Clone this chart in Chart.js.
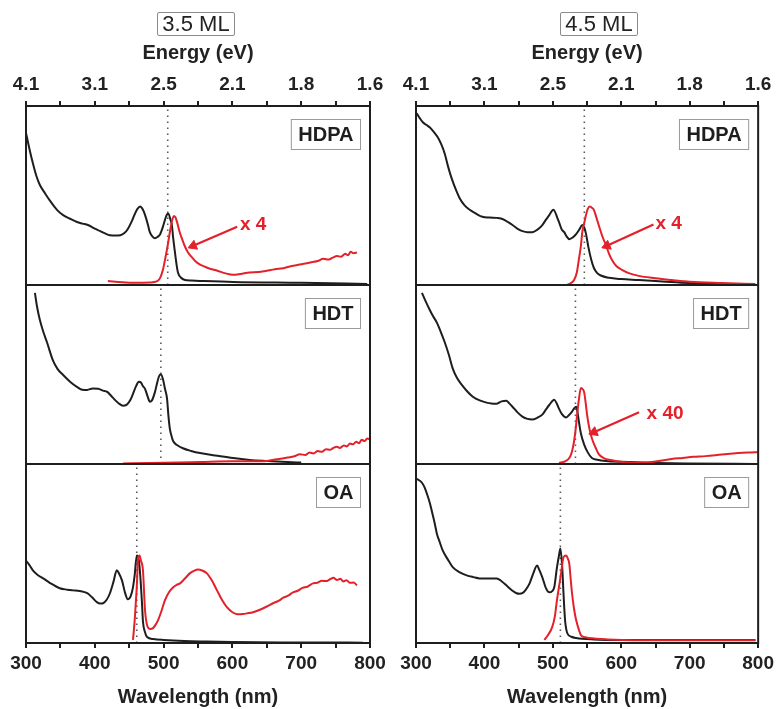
<!DOCTYPE html>
<html>
<head>
<meta charset="utf-8">
<script src="https://cdn.jsdelivr.net/npm/chart.js@4.4.1/dist/chart.umd.min.js"></script>
<style>
  html, body { margin: 0; padding: 0; background: #fff; }
  body { width: 778px; height: 709px; position: relative; overflow: hidden;
         font-family: "Liberation Sans", Arial, sans-serif; }
  .col { position: absolute; top: 0; height: 709px; }
  .ml { position: absolute; top: 12px; height: 24px; box-sizing: border-box;
        border: 1px solid #8a8a8a; border-radius: 2px; font-size: 22px; line-height: 22px;
        color: #222; text-align: center; }
</style>
</head>
<body>
<div class="col" style="left:0;width:390px"><canvas id="c35" width="390" height="709"></canvas></div>
<div class="col" style="left:390px;width:388px"><canvas id="c45" width="388" height="709"></canvas></div>
<div class="ml" style="left:157px;width:78px">3.5 ML</div>
<div class="ml" style="left:560px;width:78px">4.5 ML</div>
<script>
// ---------------- data ----------------
const thicknessLabels = ['3.5 ML', '4.5 ML'];
const ligands = ['HDPA', 'HDT', 'OA'];
const wavelengthTicks = [300, 400, 500, 600, 700, 800];
const energyTickLabels = ['4.1', '3.1', '2.5', '2.1', '1.8', '1.6'];

// band-edge (dotted line) wavelengths, nm, per panel top->bottom
const exciton35 = [506, 496, 461];
const exciton45 = [546, 533, 511];

// PL magnification labels
const plFactor35 = ['x 4', '', ''];
const plFactor45 = ['x 4', 'x 40', ''];

// 3.5 ML absorption [wavelength nm, normalised intensity]
const abs35HDPA = [[300,85],[305,76],[310,68],[315,61],[320,56],[328,51],[335,47],[345,42],[354,39],[364,37],[374,35.2],[382,34.3],[390,33.5],[400,31.5],[408,30.1],[415,28.8],[422,27.8],[430,27.6],[437,27.8],[443,29],[448,31.3],[453,35],[458,39.5],[462,42.5],[466,43.8],[470,42],[473,39.2],[477,34],[480,29.5],[484,27],[487.5,26.1],[491,26.8],[495,28.4],[499,32.5],[502,36.4],[505,39.5],[507,39.8],[510,36.5],[512,33.5],[514,26],[516.5,18.2],[519,11],[521,6.8],[525,4.2],[531,2.8],[540,2.5],[553,2.3],[601,1.7],[700,1.2],[796,0.6]];
const abs35HDT = [[313,95.6],[316,88],[320,80.7],[325,74],[330.5,68],[339,58],[346,53],[354,49.7],[364,46],[374,43.1],[382,41.5],[389,41.4],[397,42.2],[405,42],[412,41],[418,40.3],[424,38],[429,35.9],[435,33.8],[441,32.6],[445,32.8],[448,33.7],[452,36],[455.5,39.2],[460,43.5],[464,45.9],[467,45.5],[470,43.5],[473,42],[477,37.5],[480,34.8],[483,35.5],[487.5,40.3],[491,46],[494,49.5],[496,50],[499,47.5],[502,42],[505,36.5],[507,27],[509,19.9],[512,15],[514,12.7],[520,10.5],[528,8.8],[540,7.3],[553,6.1],[575,4.8],[601,3.3],[625,2.3],[650,1.7],[680,1.1],[700,0.8]];
const abs35OA = [[300,46.1],[305,43.5],[310,40.6],[317,38],[325,36.1],[335,33.5],[349,30.6],[360,29.8],[368,29.4],[378,29],[389,27.8],[396,25.5],[403,22.8],[408,22],[412,22.2],[417,24],[422,27.8],[427,34],[432,40.6],[435,39],[439.5,35],[444,28],[448,24.4],[452,26],[455.5,31.1],[458,38],[461,48.9],[464,46.1],[466,38],[468.6,22.2],[470,12],[473,6],[476,3.3],[485,2.2],[500,1.7],[530,1.1],[560,0.8],[600,0.5],[700,0.3],[790,0.2]];

// 3.5 ML photoluminescence
const pl35HDPA = [[419,2.3],[440,1.5],[460,1.2],[480,1.4],[490,2],[495,4],[499,8.5],[502,14],[504,18],[506,22.2],[508,27],[511,33.5],[513,37],[515,38.6],[517,38],[519.5,35.2],[523,30],[527,25.6],[531,21.5],[535.5,18.2],[540,16],[547,13],[553,11.4],[560,10.2],[570,8.8],[578,8.0],[590,6.5],[601,5.7],[612,6.2],[625,7],[638,7.2],[650,8.0],[662,8.8],[674,9.4],[686,10.6],[698,11.4],[708,12.2],[716,12.8],[724,13.4],[732,14.6],[740,14.2],[746,15.3],[752,16.2],[758,15.8],[764,17.4],[768,16.6],[772,18.6],[776,17.8],[781,18.2]];
const pl35HDT = [[441,0.3],[480,0.5],[520,0.8],[553,1.1],[600,1.5],[630,1.5],[650,1.7],[660,2.4],[670,2.9],[680,3.6],[690,4.3],[698,5.5],[706,5.0],[712,6.4],[718,5.9],[724,7.2],[730,6.8],[736,8.2],[742,7.9],[746,8.8],[752,9.6],[756,8.9],[762,10.4],[766,9.8],[771,11.4],[775,11],[780,12.4],[784,11.6],[788,13.6],[792,12.8],[796,14.2],[800,13.8]];
const pl35OA = [[455.5,1.7],[458,12.8],[460,25],[461,31.1],[463,47.8],[465,48.9],[467,46],[470,40.6],[473,18.3],[477,8.9],[481,7.8],[484.6,8.3],[488,10],[492,12.8],[497,18],[502,23.9],[508,28.5],[514,31.1],[519,32.5],[524,33.3],[531,36],[538,38.9],[544,40.3],[550,41.1],[556,40.5],[563,38.9],[570,35],[577.6,29.4],[585,24],[592,20],[600,17.2],[607,16.1],[615,16.2],[622,16.6],[630,17.2],[640,18.6],[650,20.4],[659,22.2],[667,23.5],[674,25.3],[681,26.4],[688,28.3],[695,29.2],[702,30.8],[709,31.4],[717,33.3],[723,33.6],[730,34.8],[736,34.6],[742,35.6],[747,36.4],[752,35.2],[757,35.9],[761,34.4],[766,35.0],[771,33.6],[776,33.8],[781,32.2]];

// 4.5 ML absorption
const abs45HDPA = [[301,96],[305,93.5],[310,90.9],[315,89.5],[320,88.1],[326,85.5],[332,82.4],[337,78.5],[342,73.3],[347,66],[352,59.7],[358,53.5],[364,48.3],[371,44.5],[378.5,42],[388,39.8],[397,38.1],[408,37.7],[418,37.5],[424,37.2],[429,36.4],[435,35],[441,33.5],[448,31.5],[455.5,30.1],[463,29.5],[470,29.5],[477,30.8],[484.6,33.5],[490,36.5],[495,39.2],[500.6,42],[503,41],[506,38.1],[510,34],[513,31],[516.6,29.5],[520,27.2],[524,25.6],[529,26.5],[534,28.4],[539,31.2],[543,33.5],[546,32],[548.5,28.4],[552,21],[556,14.2],[560,9.5],[564.5,6.8],[570,5.3],[582,4],[600,3.3],[625.6,2.8],[660,2],[698,1.1],[750,0.5],[796,0]];
const abs45HDT = [[308.7,95.6],[314,91],[320,86.2],[325,82.5],[330.5,79],[336,74],[342,68],[348,61],[354,53],[360,48],[367,44.2],[375,40.5],[383,37.6],[393,35.5],[403,34.3],[410,33.8],[418,33.7],[425,35],[432,35.4],[436,34],[441,32],[448,29],[455.5,26.5],[463,25.2],[470,24.9],[477,25.8],[484.6,27.6],[490,30.5],[495,33.1],[502,35.9],[506,33.5],[509,30.9],[513,28],[519.5,26],[524,27.5],[528,29.3],[531,31],[534,32],[536,29],[538,23.8],[541,17],[545.6,11],[551,6.5],[557,3.3],[565,2.4],[577.6,1.7],[600,1.2],[650,0.6],[700,0.3],[796,0]];
const abs45OA = [[301,91.7],[305,90.8],[309,89.4],[313,86.5],[316,83.3],[320,78.5],[323,73.9],[327,67.5],[330.5,61.1],[335,56],[339,51.7],[346,47],[354,42.2],[364,39.5],[374,37.8],[384,36.8],[393,36.1],[405,36],[418,36.1],[425,34.5],[432,32.2],[440,29.5],[447,27.8],[451,27.5],[455.5,27.8],[460,29.5],[466,33.3],[471,38.5],[477,43.3],[480,41],[484.6,36.7],[490,30.5],[495,28.3],[499,29],[502,31.1],[506,42.2],[509,49],[511,52.8],[513.7,42.2],[515,32],[516.6,20],[518,12],[521,5.6],[527,3.5],[534,2.8],[560,2],[601,1.7],[700,1.7],[796,1.7]];

// 4.5 ML photoluminescence
const pl45HDPA = [[519.5,0],[525,0.8],[531,2.8],[535,7],[538,14.2],[541,22],[543,29.5],[546,35],[548.5,39.2],[551,42.5],[554,43.8],[557,43.2],[560,42],[563,38.5],[567,33.5],[572,27.5],[577.6,22.2],[582,17.5],[586,14.2],[593,10.5],[601,8.5],[612,6.5],[625.6,5.1],[650,3.8],[673.5,2.8],[700,1.8],[746,1.1],[796,0.6]];
const pl45HDT = [[509,0.6],[518,1.5],[524,3.3],[528,7],[531,12.7],[533.5,20],[535.5,27.6],[538,36],[541,42.5],[543,42],[545.6,40.3],[548,34],[550,27.6],[553,20.5],[557,14.4],[562,9.5],[567,5.5],[575,3.2],[585,2.2],[592,1.7],[605,1],[625.6,0.6],[650,1.4],[673.5,2.8],[690,3.4],[705,4.0],[723,4.4],[740,5.0],[755,5.6],[771,6.1],[785,6.4],[800,6.6]];
const pl45OA = [[487.5,1.7],[493,4.5],[499,8.9],[503,15],[506,23.9],[509,31.5],[512,38.9],[515,47.2],[517,48.6],[519.5,48.9],[522,47],[524,44.4],[526,36],[528,27.8],[531,19],[534,12.8],[538,7.5],[541,4.4],[547,3.2],[553,2.8],[580,2],[601,1.7],[700,1.5],[796,1.5]];

// arrow annotations (data coordinates: [nm, value]) per panel
const arrowTail35 = [[607,32.5], null, null];
const arrowHead35 = [[543,21.9], null, null];
const arrowText35 = [[611,33.8], null, null];
const arrowTail45 = [[647,33.8], [626,28.9], null];
const arrowHead45 = [[579,21.9], [560,17.8], null];
const arrowText45 = [[650,34], [637,27.8], null];

// ---------------- drawing ----------------
const FONT = '"Liberation Sans", Arial, sans-serif';
const BLACK = '#1e1e1e';
const RED = '#e3212b';
const toXY = arr => arr.map(p => ({x: p[0], y: p[1]}));

const annotPlugin = {
  id: 'annot',
  afterDatasetsDraw(chart) {
    const o = chart.options.plugins.annot;
    const {ctx, chartArea: a} = chart;
    ctx.save();
    // frame + separators
    ctx.strokeStyle = BLACK;
    ctx.lineWidth = 2;
    ctx.strokeRect(a.left, a.top, a.right - a.left, a.bottom - a.top);
    ['y0', 'y1'].forEach(id => {
      const s = chart.scales[id];
      ctx.beginPath();
      ctx.moveTo(a.left, s.bottom);
      ctx.lineTo(a.right, s.bottom);
      ctx.stroke();
    });
    // ligand boxes
    ctx.font = 'bold 20px ' + FONT;
    ctx.textBaseline = 'middle';
    ctx.textAlign = 'center';
    o.ligands.forEach((name, p) => {
      const s = chart.scales['y' + p];
      const w = ctx.measureText(name).width + 14;
      const h = 30;
      const right = a.right - 10;
      const top = s.top + 13;
      ctx.strokeStyle = '#9a9a9a';
      ctx.lineWidth = 1;
      ctx.strokeRect(right - w + 0.5, top + 0.5, w, h);
      ctx.fillStyle = '#1e1e1e';
      ctx.fillText(name, right - w / 2 + 0.5, top + h / 2 + 1);
    });
    // PL factor labels
    ctx.font = 'bold 19px ' + FONT;
    ctx.textAlign = 'left';
    ctx.fillStyle = RED;
    o.factors.forEach((t, p) => {
      if (!t || !o.textAt[p]) return;
      const x = chart.scales.x.getPixelForValue(o.textAt[p][0]);
      const y = chart.scales['y' + p].getPixelForValue(o.textAt[p][1]);
      ctx.fillText(t, x, y);
    });
    ctx.restore();
  }
};

function makeChart(id, absSets, plSets, excitons, tails, heads, textAt, factors, padRight) {
  const datasets = [];
  for (let p = 0; p < 3; p++) {
    const yId = 'y' + p;
    if (tails[p]) {
      datasets.push({
        data: toXY([tails[p], heads[p]]), yAxisID: yId, xAxisID: 'x',
        borderColor: RED, borderWidth: 2.2, backgroundColor: RED,
        pointRadius: [0, 5.5], pointStyle: 'triangle', pointRotation: 248,
        pointBackgroundColor: RED, pointBorderColor: RED, pointBorderWidth: 1,
        tension: 0
      });
    }
    datasets.push({
      data: toXY(plSets[p]), yAxisID: yId, xAxisID: 'x',
      borderColor: RED, borderWidth: 2, pointRadius: 0, cubicInterpolationMode: 'monotone'
    });
    datasets.push({
      data: toXY(absSets[p]), yAxisID: yId, xAxisID: 'x',
      borderColor: BLACK, borderWidth: 2, pointRadius: 0, cubicInterpolationMode: 'monotone'
    });
    datasets.push({
      data: [{x: excitons[p], y: 0}, {x: excitons[p], y: 100}], yAxisID: yId, xAxisID: 'x',
      borderColor: '#5a5a5a', borderWidth: 1.6, borderDash: [1.6, 4.4], pointRadius: 0
    });
  }
  const tickFont = {family: FONT, size: 19, weight: 'bold'};
  const titleFont = {family: FONT, size: 20, weight: 'bold'};
  const xCommon = {
    type: 'linear', min: 300, max: 800,
    grid: {drawOnChartArea: false, drawTicks: true, tickLength: 5, color: BLACK, lineWidth: 2},
    border: {display: true, color: BLACK, width: 2},
  };
  const scales = {
    x: Object.assign({}, xCommon, {
      position: 'bottom',
      ticks: {stepSize: 50, autoSkip: false, maxRotation: 0, padding: 4, color: '#222', font: tickFont,
        callback: v => (wavelengthTicks.includes(v) ? String(v) : '')},
      title: {display: true, text: 'Wavelength (nm)', color: '#222', font: titleFont, padding: {top: 0, bottom: 0}},
      afterFit: s => { s.height = 66; }
    }),
    x2: Object.assign({}, xCommon, {
      position: 'top',
      ticks: {stepSize: 50, autoSkip: false, maxRotation: 0, padding: 5, color: '#222', font: tickFont,
        callback: v => { const i = wavelengthTicks.indexOf(v); return i >= 0 ? energyTickLabels[i] : ''; }},
      title: {display: true, text: 'Energy (eV)', color: '#222', font: titleFont, padding: {top: 1, bottom: 0}},
      afterFit: s => { s.height = 66; }
    })
  };
  for (let p = 0; p < 3; p++) {
    scales['y' + p] = {
      type: 'linear', position: 'left', stack: 'panels', stackWeight: 1, weight: 3 - p,
      min: 0, max: 100,
      ticks: {display: false},
      grid: {display: false, drawTicks: false},
      border: {display: false},
      afterFit: s => { s.width = 0; }
    };
  }
  return new Chart(document.getElementById(id), {
    type: 'line',
    data: {datasets},
    options: {
      responsive: false, animation: false, devicePixelRatio: 1,
      parsing: false, normalized: true,
      layout: {padding: {top: 40, left: 26, right: padRight, bottom: 0}},
      plugins: {
        legend: {display: false}, tooltip: {enabled: false}, title: {display: false},
        annot: {ligands, factors, textAt}
      },
      scales
    },
    plugins: [annotPlugin]
  });
}

makeChart('c35', [abs35HDPA, abs35HDT, abs35OA], [pl35HDPA, pl35HDT, pl35OA], exciton35,
  arrowTail35, arrowHead35, arrowText35, plFactor35, 20);
makeChart('c45', [abs45HDPA, abs45HDT, abs45OA], [pl45HDPA, pl45HDT, pl45OA], exciton45,
  arrowTail45, arrowHead45, arrowText45, plFactor45, 18);
</script>
</body>
</html>
